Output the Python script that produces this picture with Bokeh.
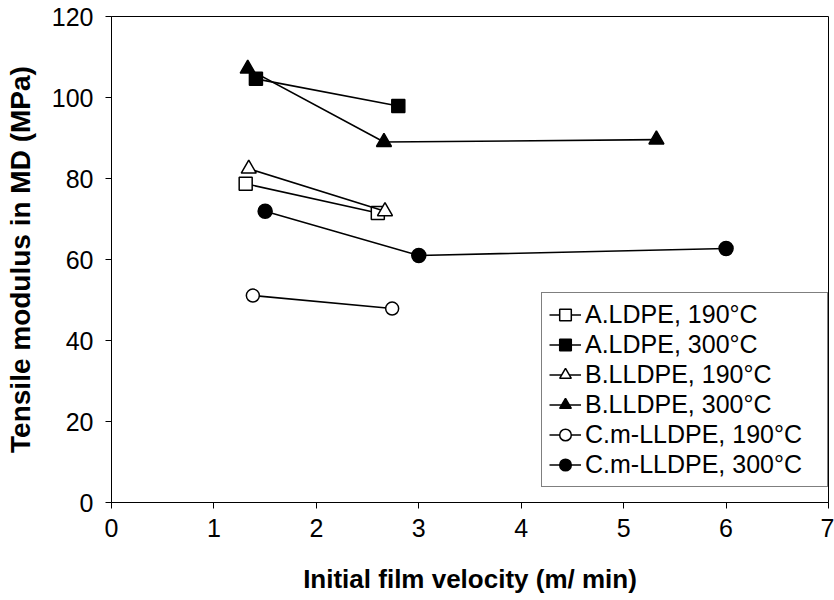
import math
from bokeh.plotting import figure
from bokeh.models import ColumnDataSource, Legend, LegendItem, FixedTicker, Range1d
from bokeh.embed import file_html
from bokeh.resources import INLINE

# Data
a_ldpe_190_x = [1.31, 2.60]
a_ldpe_190_y = [78.7, 71.5]
a_ldpe_300_x = [1.41, 2.80]
a_ldpe_300_y = [104.6, 97.9]
b_lldpe_190_x = [1.34, 2.67]
b_lldpe_190_y = [82.4, 71.9]
b_lldpe_300_x = [1.33, 2.66, 5.32]
b_lldpe_300_y = [107.1, 89.0, 89.6]
c_mlldpe_190_x = [1.38, 2.74]
c_mlldpe_190_y = [51.1, 47.9]
c_mlldpe_300_x = [1.50, 3.00, 6.00]
c_mlldpe_300_y = [71.9, 61.0, 62.7]

labels = ["A.LDPE, 190°C", "A.LDPE, 300°C", "B.LLDPE, 190°C",
          "B.LLDPE, 300°C", "C.m-LLDPE, 190°C", "C.m-LLDPE, 300°C"]
x_ticks = [0, 1, 2, 3, 4, 5, 6, 7]
y_ticks = [0, 20, 40, 60, 80, 100, 120]

series = [
    (a_ldpe_190_x, a_ldpe_190_y, "square", "white", 13),
    (a_ldpe_300_x, a_ldpe_300_y, "square", "black", 13),
    (b_lldpe_190_x, b_lldpe_190_y, "triangle", "white", 15),
    (b_lldpe_300_x, b_lldpe_300_y, "triangle", "black", 15),
    (c_mlldpe_190_x, c_mlldpe_190_y, "circle", "white", 13),
    (c_mlldpe_300_x, c_mlldpe_300_y, "circle", "black", 14),
]

FONT = "Liberation Sans"

p = figure(width=834, height=600, output_backend="svg", toolbar_location=None,
           x_range=Range1d(0, 7), y_range=Range1d(0, 120),
           min_border_left=111, min_border_right=6, min_border_top=16,
           min_border_bottom=98)
p.background_fill_color = "white"
p.border_fill_color = "white"
p.outline_line_color = "black"
p.outline_line_width = 1
p.xgrid.visible = False
p.ygrid.visible = False

for ax in (p.xaxis[0], p.yaxis[0]):
    ax.axis_line_color = "black"
    ax.axis_line_width = 1
    ax.major_tick_in = 0
    ax.major_tick_out = 6
    ax.major_tick_line_color = "black"
    ax.minor_tick_line_color = None
    ax.major_label_text_font = FONT
    ax.major_label_text_font_size = "25px"
    ax.major_label_text_color = "black"
    ax.axis_label_text_font = FONT
    ax.axis_label_text_font_style = "bold"
    ax.axis_label_text_color = "black"

p.xaxis.axis_label_text_font_size = "26px"
p.yaxis.axis_label_text_font_size = "28px"
p.xaxis.ticker = FixedTicker(ticks=x_ticks)
p.yaxis.ticker = FixedTicker(ticks=y_ticks)
p.xaxis.axis_label = "Initial film velocity (m/ min)"
p.yaxis.axis_label = "Tensile modulus in MD (MPa)"
p.xaxis.major_label_standoff = 10
p.xaxis.axis_label_standoff = 24
p.yaxis.major_label_standoff = 12
p.yaxis.axis_label_standoff = 13

items = []
for (xs, ys, marker, fill, size), lab in zip(series, labels):
    src = ColumnDataSource(dict(x=xs, y=ys))
    p.line("x", "y", source=src, line_color="black", line_width=1.6)
    p.scatter("x", "y", source=src, marker=marker, size=size,
              fill_color=fill, line_color="black", line_width=1.5)
    # legend-only renderers (smaller markers, like the reference legend)
    ghost = ColumnDataSource(dict(x=[math.nan], y=[math.nan]))
    lr = p.line("x", "y", source=ghost, line_color="black", line_width=1.6)
    sr = p.scatter("x", "y", source=ghost, marker=marker, size=size - 3,
                   fill_color=fill, line_color="black", line_width=1.5)
    items.append(LegendItem(label=lab, renderers=[lr, sr]))

legend = Legend(items=items, location=(430, 15))
legend.label_text_font = FONT
legend.label_text_font_size = "25px"
legend.label_text_color = "black"
legend.glyph_width = 32
legend.glyph_height = 29
legend.label_height = 29
legend.label_width = 235
legend.label_standoff = 4
legend.spacing = 1
legend.padding = 7
legend.margin = 0
legend.border_line_color = "black"
legend.border_line_width = 1
legend.background_fill_color = "white"
legend.background_fill_alpha = 1
p.add_layout(legend, "center")

open("out.html", "w").write(file_html(p, INLINE))
